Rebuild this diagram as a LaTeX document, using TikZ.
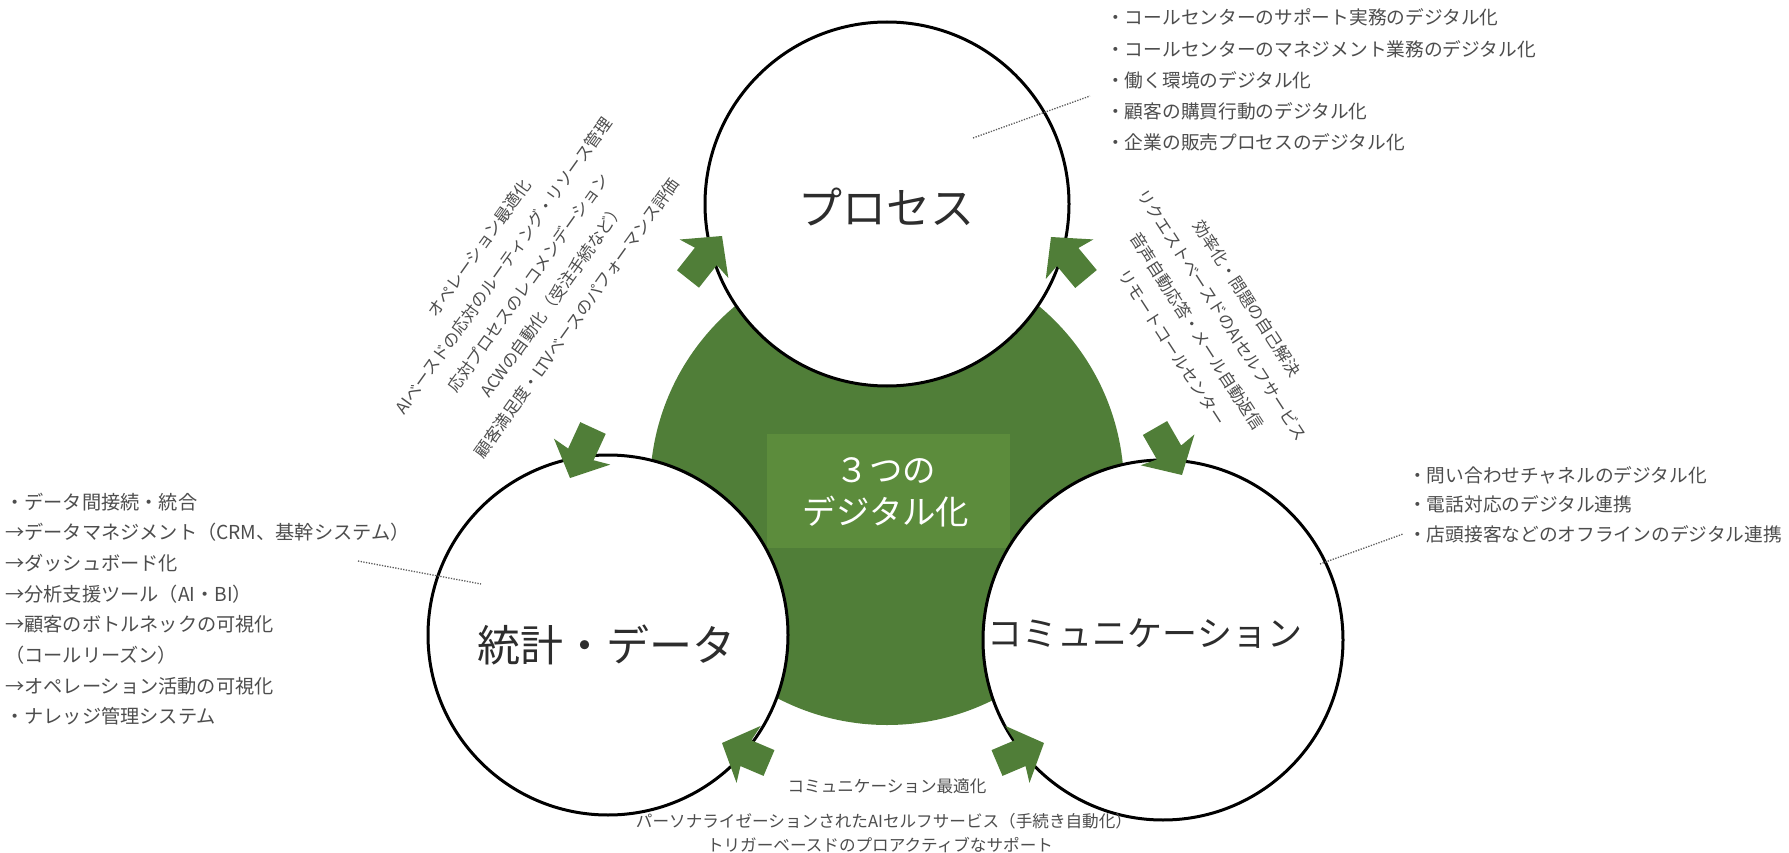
\documentclass[tikz,border=0pt]{standalone}
\usepackage{fontspec}
\setmainfont{Noto Sans CJK JP}
\usetikzlibrary{calc}
\definecolor{dgreen}{RGB}{80,126,56}
\definecolor{lgreen}{RGB}{92,140,60}
\definecolor{tgray}{RGB}{77,77,77}
\definecolor{lblgray}{RGB}{45,45,45}
\definecolor{dotgray}{RGB}{90,90,90}
\newcommand\garrow[2]{%
  \fill[garrowfill] let \p1=($(#2)-(#1)$), \n1={atan2(\y1,\x1)} in
    ($(#1)+({\n1+90}:14pt)$)
    -- ($(#2)+({\n1+180}:26pt)+({\n1+90}:14pt)$)
    -- ($(#2)+({\n1+180}:29pt)+({\n1+90}:31pt)$)
    -- (#2)
    -- ($(#2)+({\n1+180}:29pt)+({\n1-90}:31pt)$)
    -- ($(#2)+({\n1+180}:26pt)+({\n1-90}:14pt)$)
    -- ($(#1)+({\n1-90}:14pt)$) -- cycle;}
\begin{document}
\begin{tikzpicture}[x=1pt,y=-1pt,
  ring/.style={circle, draw=black, line width=3pt, fill=white, inner sep=0pt},
  garrowfill/.style={fill=dgreen},
  listtxt/.style={inner sep=0pt, text=tgray, font=\fontsize{18.7}{20}\selectfont},
  leftlist/.style={inner sep=0pt, text=tgray, font=\fontsize{19.2}{20}\selectfont},
  smalltxt/.style={inner sep=0pt, text=tgray, font=\fontsize{16.6}{18}\selectfont},
  rotblock/.style={inner sep=0pt, text=tgray, align=center, font=\fontsize{16.5}{30}\selectfont},
  biglabel/.style={inner sep=0pt, text=lblgray},
  dotline/.style={draw=dotgray, line width=1.3pt, dash pattern=on 1.3pt off 1.4pt}]
\useasboundingbox (0,0) rectangle (1789,853);
\fill[white] (0,0) rectangle (1789,853);

% core
\node[circle, fill=dgreen, minimum size=474pt, inner sep=0pt] (core) at (887,488) {};
\node[fill=lgreen, minimum width=243pt, minimum height=114pt, inner sep=0pt] (corebox) at (888.5,491) {};

% three circles
\node[ring, minimum size=364pt] (proc) at (887,204) {};
\node[ring, minimum size=360pt] (data) at (608,635) {};
\node[ring, minimum size=360pt] (comm) at (1163,640) {};

% labels
\node[biglabel, anchor=base, font=\fontsize{44}{48}\selectfont] (proclbl) at (886,225) {プロセス};
\node[biglabel, anchor=base, font=\fontsize{43}{48}\selectfont] (datalbl) at (606,661) {統計・データ};
\node[biglabel, anchor=base, font=\fontsize{35}{40}\selectfont] (commlbl) at (1145,646) {コミュニケーション};
\node[inner sep=0pt, anchor=base, text=white, font=\fontsize{33.4}{36}\selectfont] (core1) at (886,482) {３つの};
\node[inner sep=0pt, anchor=base, text=white, font=\fontsize{33.4}{36}\selectfont] (core2) at (886,524) {デジタル化};

% arrows
\coordinate (a1t) at (688,279); \coordinate (a1h) at (722,236);
\coordinate (a2t) at (1086,279); \coordinate (a2h) at (1051,237);
\coordinate (a3t) at (593,428); \coordinate (a3h) at (570,478);
\coordinate (a4t) at (1155,428); \coordinate (a4h) at (1182,475);
\coordinate (a5t) at (769,763); \coordinate (a5h) at (722,743);
\coordinate (a6t) at (997,763); \coordinate (a6h) at (1044,743);
\garrow{a1t}{a1h}
\garrow{a2t}{a2h}
\garrow{a3t}{a3h}
\garrow{a4t}{a4h}
\garrow{a5t}{a5h}
\garrow{a6t}{a6h}

% dotted leaders
\coordinate (d1a) at (973,138); \coordinate (d1b) at (1090,96);
\coordinate (d2a) at (358,561); \coordinate (d2b) at (481,584);
\coordinate (d3a) at (1320,564); \coordinate (d3b) at (1403,534);
\draw[dotline] (d1a) -- (d1b);
\draw[dotline] (d2a) -- (d2b);
\draw[dotline] (d3a) -- (d3b);

% top right list
\foreach \t [count=\i] in {・コールセンターのサポート実務のデジタル化,・コールセンターのマネジメント業務のデジタル化,・働く環境のデジタル化,・顧客の購買行動のデジタル化,・企業の販売プロセスのデジタル化}
  \node[listtxt, anchor=base west] (tr\i) at (1106,{25+31.25*(\i-1)}) {\t};

% left list
\foreach \t [count=\i] in {・データ間接続・統合,→データマネジメント（CRM、基幹システム）,→ダッシュボード化,→分析支援ツール（AI・BI）,→顧客のボトルネックの可視化,（コールリーズン）,→オペレーション活動の可視化,・ナレッジ管理システム}
  \node[leftlist, anchor=base west] (ll\i) at (5,{509+30.7*(\i-1)}) {\t};

% right list
\foreach \t [count=\i] in {・問い合わせチャネルのデジタル化,・電話対応のデジタル連携,・店頭接客などのオフラインのデジタル連携}
  \node[listtxt, anchor=base west] (rl\i) at (1408,{482+29.6*(\i-1)}) {\t};

% bottom text
\node[smalltxt, anchor=base] (b1) at (887,792) {コミュニケーション最適化};
\node[smalltxt, anchor=base] (b2) at (884,827) {パーソナライゼーションされたAIセルフサービス（手続き自動化）};
\node[smalltxt, anchor=base] (b3) at (880,851) {トリガーベースドのプロアクティブなサポート};

% rotated blocks
\node[rotblock, rotate=54.5] (ltxt) at (528,283) {オペレーション最適化\\AIベースドの応対のルーティング・リソース管理\\応対プロセスのレコメンデーション\\ACWの自動化（受注手続など）\\顧客満足度・LTVベースのパフォーマンス評価};
\node[rotblock, rotate=-57] (rtxt) at (1210,323) {効率化・問題の自己解決\\リクエストベースドのAIセルフサービス\\音声自動応答・メール自動返信\\リモートコールセンター};
\end{tikzpicture}
\end{document}
